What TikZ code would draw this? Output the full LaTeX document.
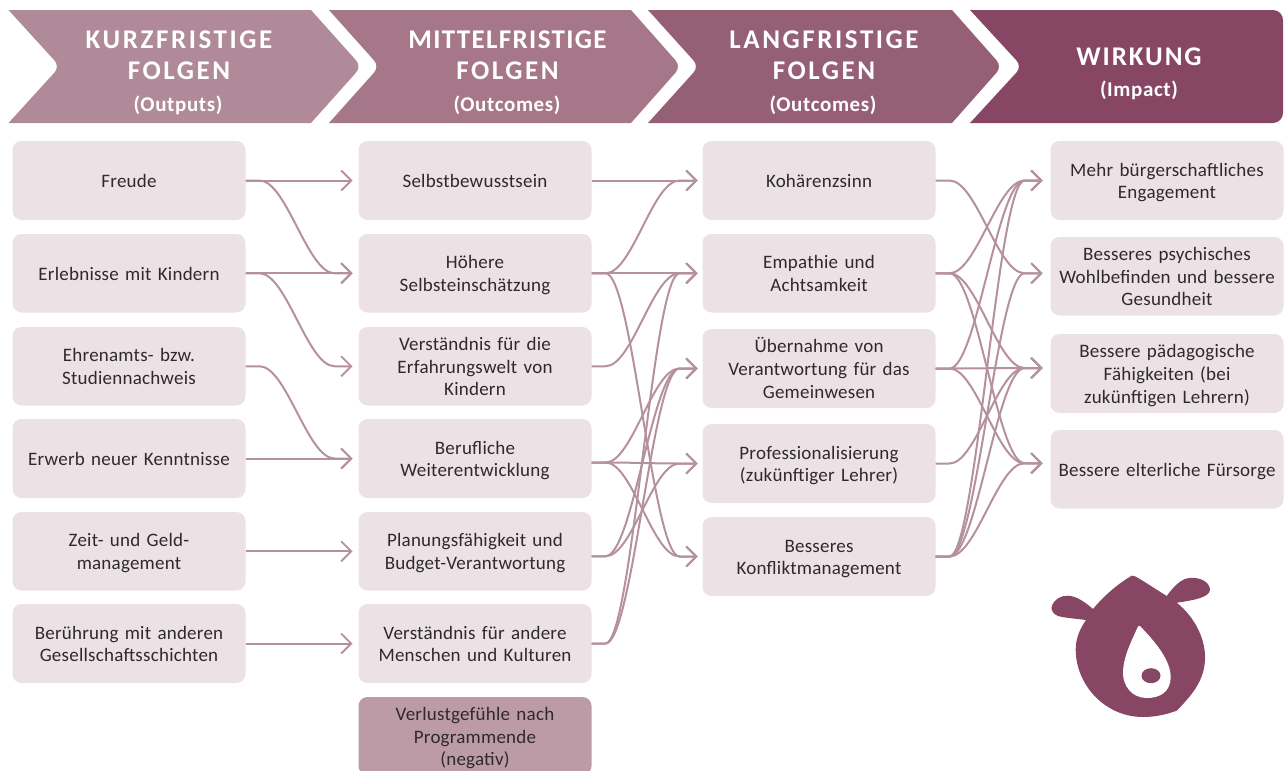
\documentclass[tikz,border=0pt]{standalone}
\usepackage{fontspec}
\setmainfont{Carlito}
\newfontfamily\bodyf[LetterSpace=1.2,WordSpace=0.75]{Carlito}
\newfontfamily\headf[LetterSpace=9.5]{Carlito Bold}
\newfontfamily\headm[LetterSpace=5]{Carlito Bold}
\newfontfamily\headw[LetterSpace=7]{Carlito Bold}
\newfontfamily\subf[LetterSpace=3]{Carlito Bold}
\usetikzlibrary{arrows.meta,calc}
\definecolor{boxc}{HTML}{ECE2E6}
\definecolor{negc}{HTML}{BC9BA7}
\definecolor{flowc}{HTML}{B5919F}
\definecolor{chA}{HTML}{B08A98}
\definecolor{chB}{HTML}{A67789}
\definecolor{chC}{HTML}{955F76}
\definecolor{chD}{HTML}{874664}
\definecolor{textc}{HTML}{2E2A2C}
\tikzset{
  x=1pt,y=-1pt,
  item/.style={draw=none,fill=boxc,rounded corners=9pt,minimum width=233pt,inner sep=0pt,outer sep=0pt,align=center,text=textc,font=\fontsize{19}{22.6}\selectfont\bodyf,text width=228pt},
  neg/.style={item,fill=negc},
  head/.style={text=white,align=center,font=\fontsize{27}{31}\selectfont\headf},
  sub/.style={text=white,align=center,font=\fontsize{21}{22}\selectfont\subf},
  flow/.style={draw=flowc,line width=2pt,-{Straight Barb[length=10pt,width=20pt,line width=1.9pt]}},
}
\newcommand{\place}[6][item]{\node[#1,minimum height=#6pt,anchor=north west] (#2) at (#3,#4) {\rule{0pt}{19pt}#5\rule[-5pt]{0pt}{0pt}};}
\newcommand{\fl}[2]{\draw[flow] (#1) -- ++(14,0) .. controls ($(#1)+(41,0)$) and ($(#2)+(-45,0)$) .. ($(#2)+(-18,0)$) -- (#2);}
\begin{document}
\begin{tikzpicture}
\useasboundingbox (0,0) rectangle (1288,771);
% headers
\fill[chA,rounded corners=0pt] (8.5,10) -- (311,10) [rounded corners=8pt] -- (361.5,66.5) [rounded corners=0pt] -- (311,123) -- (8.5,123) [rounded corners=8pt] -- (60,66.5) [rounded corners=0pt] -- cycle;
\fill[chB] (329,10) -- (631,10) [rounded corners=8pt] -- (681,66.5) [rounded corners=0pt] -- (631,123) -- (329,123) [rounded corners=8pt] -- (379.5,66.5) [rounded corners=0pt] -- cycle;
\fill[chC] (648,10) -- (952,10) [rounded corners=8pt] -- (1002,66.5) [rounded corners=0pt] -- (952,123) -- (648,123) [rounded corners=8pt] -- (699,66.5) [rounded corners=0pt] -- cycle;
\fill[chD] (970,10) [rounded corners=10pt] -- (1283,10) -- (1283,123) [rounded corners=0pt] -- (970,123) [rounded corners=8pt] -- (1022,66.5) [rounded corners=0pt] -- cycle;
\node[head] (h1) at (179,55) {KURZFRISTIGE\\FOLGEN};
\node[sub] (s1) at (178,105) {(Outputs)};
\node[head] (h2) at (507.5,55) {{\headm MITTELFRISTIGE}\\FOLGEN};
\node[sub] (s2) at (507,105) {(Outcomes)};
\node[head] (h3) at (824,55) {LANGFRISTIGE\\FOLGEN};
\node[sub] (s3) at (823,105) {(Outcomes)};
\node[head] (h4) at (1139,56.5) {{\headw WIRKUNG}};
\node[sub] (s4) at (1139,90) {(Impact)};
% column 1
\place{a1}{12.5}{141}{Freude}{79}
\place{a2}{12.5}{234}{Erlebnisse mit Kindern}{78.5}
\place{a3}{12.5}{327}{Ehrenamts- bzw.\\Studiennachweis}{78.5}
\place{a4}{12.5}{419}{Erwerb neuer Kenntnisse}{79}
\place{a5}{12.5}{512}{Zeit- und Geld-\\management}{78.5}
\place{a6}{12.5}{604}{Berührung mit anderen\\Gesellschaftsschichten}{79}
% column 2
\place{b1}{358.5}{141}{Selbstbewusstsein}{79}
\place{b2}{358.5}{234}{Höhere\\Selbsteinschätzung}{78.5}
\place{b3}{358.5}{327}{Verständnis für die\\Erfahrungswelt von\\Kindern}{78.5}
\place{b4}{358.5}{419}{Berufliche\\Weiterentwicklung}{79}
\place{b5}{358.5}{512}{Planungsfähigkeit und\\Budget-Verantwortung}{78.5}
\place{b6}{358.5}{604}{Verständnis für andere\\Menschen und Kulturen}{79}
\begin{scope}
\clip (340,690) rectangle (610,771);
\place[neg]{b7}{358.5}{697}{Verlustgefühle nach\\Programmende\\(negativ)}{78}
\end{scope}
% column 3
\place{c1}{702.5}{141}{Kohärenzsinn}{79}
\place{c2}{702.5}{234}{Empathie und\\Achtsamkeit}{78.5}
\place{c3}{702.5}{329}{Übernahme von\\Verantwortung für das\\Gemeinwesen}{79}
\place{c4}{702.5}{424}{Professionalisierung\\(zukünftiger Lehrer)}{79}
\place{c5}{702.5}{517}{Besseres\\Konfliktmanagement}{79}
% column 4
\place{d1}{1050.5}{141}{Mehr bürgerschaftliches\\Engagement}{79}
\place{d2}{1050.5}{237}{Besseres psychisches\\Wohlbefinden und bessere\\Gesundheit}{78.5}
\place{d3}{1050.5}{334}{Bessere pädagogische\\Fähigkeiten (bei\\zukünftigen Lehrern)}{79}
\place{d4}{1050.5}{430}{Bessere elterliche Fürsorge}{78.5}
% ports
\coordinate (i1) at ([xshift=-6]b1.west);
\coordinate (i2) at ([xshift=-6]b2.west);
\coordinate (i3) at ([xshift=-6]b3.west);
\coordinate (i4) at ([xshift=-6]b4.west);
\coordinate (i5) at ([xshift=-6]b5.west);
\coordinate (i6) at ([xshift=-6]b6.west);
\coordinate (o4) at ([yshift=-4]b4.east);
\coordinate (o5) at ([yshift=-5]b5.east);
\coordinate (j1) at ([xshift=-5]c1.west);
\coordinate (j2) at ([xshift=-5]c2.west);
\coordinate (j3) at ([xshift=-5]c3.west);
\coordinate (j4) at ([xshift=-5]c4.west);
\coordinate (j5) at ([xshift=-5]c5.west);
\coordinate (k1) at ([xshift=-8]d1.west);
\coordinate (k2) at ([xshift=-8,yshift=3]d2.west);
\coordinate (k3) at ([xshift=-8,yshift=5.5]d3.west);
\coordinate (k4) at ([xshift=-8,yshift=6]d4.west);
% flows 1-2
\fl{a1.east}{i1} \fl{a1.east}{i2} \fl{a2.east}{i2} \fl{a2.east}{i3}
\fl{a3.east}{i4} \fl{a4.east}{i4} \fl{a5.east}{i5} \fl{a6.east}{i6}
% flows 2-3
\fl{b1.east}{j1} \fl{b2.east}{j1} \fl{b2.east}{j2} \fl{b2.east}{j5}
\fl{b3.east}{j2}
\fl{o4}{j3} \fl{o4}{j4} \fl{o4}{j5}
\fl{o5}{j3} \fl{o5}{j4}
\fl{b6.east}{j2} \fl{b6.east}{j3}
% flows 3-4
\fl{c1.east}{k2} \fl{c2.east}{k1} \fl{c2.east}{k3} \fl{c2.east}{k4}
\fl{c3.east}{k1} \fl{c3.east}{k3} \fl{c3.east}{k4}
\fl{c4.east}{k3}
\fl{c5.east}{k1} \fl{c5.east}{k2} \fl{c5.east}{k3} \fl{c5.east}{k4}
% logo
\fill[chD] (1131.7,575.7) .. controls (1135,575.5) and (1136,576.5) .. (1166.7,596)
 .. controls (1174,586) and (1182,578) .. (1190,578)
 .. controls (1200,577) and (1210,582) .. (1210,590)
 .. controls (1209,597) and (1196,600) .. (1176.7,602.7)
 .. controls (1195,617) and (1206,640) .. (1205,660)
 .. controls (1204,682) and (1190,697) .. (1176.7,710.7)
 .. controls (1165,715) and (1154,717) .. (1143,717)
 .. controls (1105,717) and (1076,685) .. (1075.7,650)
 .. controls (1075.5,640) and (1079,630) .. (1086,620)
 .. controls (1075,618.5) and (1065,618) .. (1058,616)
 .. controls (1053,614) and (1051,610) .. (1051.7,606.7)
 .. controls (1054,599) and (1061,595.5) .. (1068,595.7)
 .. controls (1077,596) and (1086,603) .. (1093,609)
 .. controls (1103,597) and (1116,585) .. (1131.7,575.7) -- cycle;
\fill[white] (1138,626.5) .. controls (1139,625.5) and (1140,625.5) .. (1141,627)
 .. controls (1155,642) and (1171,660) .. (1170.7,678)
 .. controls (1170,692) and (1160,698) .. (1146.7,698)
 .. controls (1132,698) and (1123,686) .. (1123,673)
 .. controls (1123,657) and (1132,640) .. (1138,626.5) -- cycle;
\fill[chD] (1151,675.7) ellipse [x radius=9.5pt,y radius=7.5pt];
\end{tikzpicture}
\end{document}
